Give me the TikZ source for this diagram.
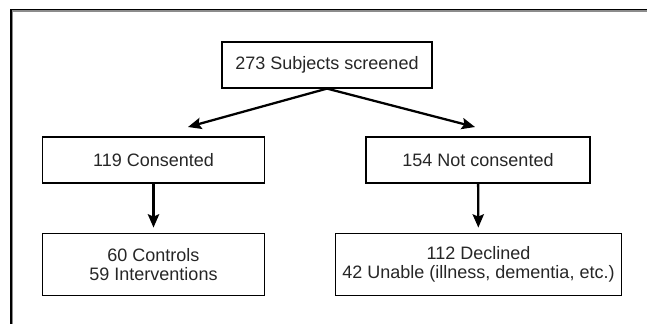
\documentclass[tikz,border=0pt]{standalone}
\usepackage{fontspec}
\setmainfont{Liberation Sans}
\usetikzlibrary{arrows.meta}

\begin{document}
\begin{tikzpicture}[x=0.75pt,y=-0.75pt]
	\tikzset{stage/.style={draw, line width=0.9pt, align=center, inner sep=0pt,
			font=\fontsize{13.5}{14.5}\selectfont, text=black!85},
		flow/.style={line width=1.7pt, -{Stealth[length=10pt,width=8.5pt,inset=1.8pt]}}}

	% Page area and frame
	\useasboundingbox (0,0) rectangle (647,324);
	\draw[black!45, line width=0.8pt] (12.6,324) -- (12.6,11) -- (647,11);
	\draw[line width=1.4pt] (11,324) -- (11,9.5) -- (647,9.5);

	% Screening
	\node[stage, minimum width=157.5pt, minimum height=34.5pt] (screened) at (327,65) {273 Subjects screened};

	% Consent split
	\node[stage, minimum width=167pt, minimum height=34.5pt] (consented) at (153.5,160) {119 Consented};
	\node[stage, minimum width=168pt, minimum height=34.5pt] (notconsented) at (478,160) {154 Not consented};

	% Outcomes
	\node[stage, minimum width=166.5pt, minimum height=47pt] (groups) at (153.5,264.5) {60 Controls\\59 Interventions};
	\node[stage, minimum width=215pt, minimum height=47pt] (reasons) at (478.5,264.5) {112 Declined\\42 Unable (illness, dementia, etc.)};

	% Arrow ends above the middle row
	\coordinate (tipl) at (188,127);
	\coordinate (tipr) at (475,127);

	\draw[flow] (screened.south) -- (tipl);
	\draw[flow] (screened.south) -- (tipr);
	\draw[flow, shorten >=3.75pt] (consented) -- (groups);
	\draw[flow, shorten >=3.75pt] (notconsented) -- (reasons);
\end{tikzpicture}
\end{document}
